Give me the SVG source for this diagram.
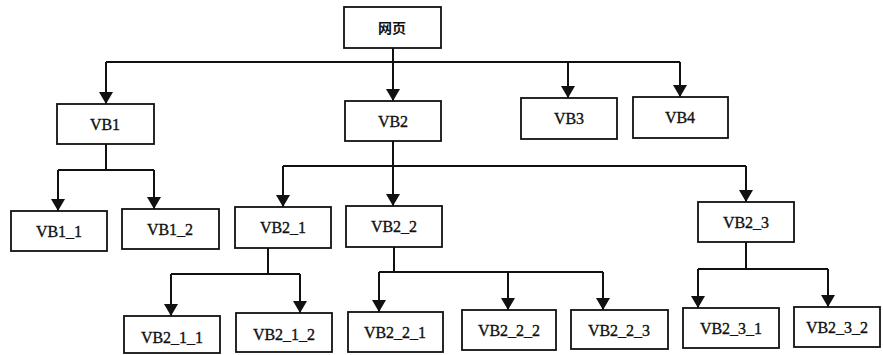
<svg xmlns="http://www.w3.org/2000/svg" width="883" height="355" viewBox="0 0 883 355">
<style>
.box{fill:#fff;stroke:#111;stroke-width:1.8}
.lbl{font-family:"Liberation Serif","Times New Roman",serif;font-size:16px;fill:#111;stroke:#111;stroke-width:0.35;text-anchor:middle}
.cjk{font-family:"Noto Sans CJK SC","Liberation Serif",sans-serif;font-size:14px;fill:#111;text-anchor:middle;font-weight:bold}
.ln{fill:none;stroke:#111;stroke-width:2}
.ar{fill:none;stroke:#111;stroke-width:2;marker-end:url(#ah)}
</style>
<defs>
<marker id="ah" markerUnits="userSpaceOnUse" viewBox="0 0 12 14" refX="12" refY="7" markerWidth="12" markerHeight="14" orient="auto">
<path d="M0,0 L12,7 L0,14 z" fill="#111"/>
</marker>
</defs>
<rect width="883" height="355" fill="#fff"/>
<g id="connectors">
<path class="ln" d="M393,48 V62 M106,62 H680"/>
<path class="ar" d="M106,62 V104"/>
<path class="ar" d="M393,62 V101"/>
<path class="ar" d="M568,62 V98"/>
<path class="ar" d="M680,62 V97"/>
<path class="ln" d="M106,144 V170 M58,170 H154"/>
<path class="ar" d="M58,170 V211"/>
<path class="ar" d="M154,170 V209"/>
<path class="ln" d="M393,141 V166 M283,166 H746"/>
<path class="ar" d="M283,166 V207"/>
<path class="ar" d="M393,166 V206"/>
<path class="ar" d="M746,166 V202"/>
<path class="ln" d="M268,248 V274 M171,274 H300"/>
<path class="ar" d="M171,274 V316"/>
<path class="ar" d="M300,274 V313"/>
<path class="ln" d="M394,247 V272 M379,272 H603"/>
<path class="ar" d="M379,272 V312"/>
<path class="ar" d="M508,272 V310"/>
<path class="ar" d="M603,272 V310"/>
<path class="ln" d="M746,242 V269 M698,269 H828"/>
<path class="ar" d="M698,269 V308"/>
<path class="ar" d="M828,269 V307"/>
</g>
<g id="root"><rect class="box" x="344" y="7" width="97" height="41"/><text class="cjk" x="392" y="33">网页</text></g>
<g id="VB1"><rect class="box" x="57" y="104" width="97" height="40"/><text class="lbl" x="105" y="130">VB1</text></g>
<g id="VB2"><rect class="box" x="345" y="101" width="96" height="40"/><text class="lbl" x="393" y="127">VB2</text></g>
<g id="VB3"><rect class="box" x="521" y="98" width="96" height="41"/><text class="lbl" x="569" y="124">VB3</text></g>
<g id="VB4"><rect class="box" x="633" y="97" width="95" height="41"/><text class="lbl" x="680" y="123">VB4</text></g>
<g id="VB1_1"><rect class="box" x="11" y="211" width="96" height="40"/><text class="lbl" x="59" y="237">VB1_1</text></g>
<g id="VB1_2"><rect class="box" x="122" y="209" width="97" height="40"/><text class="lbl" x="170" y="235">VB1_2</text></g>
<g id="VB2_1"><rect class="box" x="235" y="207" width="96" height="41"/><text class="lbl" x="283" y="233">VB2_1</text></g>
<g id="VB2_2"><rect class="box" x="346" y="206" width="96" height="41"/><text class="lbl" x="394" y="232">VB2_2</text></g>
<g id="VB2_3"><rect class="box" x="698" y="202" width="96" height="40"/><text class="lbl" x="746" y="228">VB2_3</text></g>
<g id="VB2_1_1"><rect class="box" x="124" y="316" width="96" height="37"/><text class="lbl" x="172" y="343">VB2_1_1</text></g>
<g id="VB2_1_2"><rect class="box" x="236" y="313" width="96" height="39"/><text class="lbl" x="284" y="340">VB2_1_2</text></g>
<g id="VB2_2_1"><rect class="box" x="348" y="312" width="95" height="40"/><text class="lbl" x="395" y="338">VB2_2_1</text></g>
<g id="VB2_2_2"><rect class="box" x="462" y="310" width="94" height="40"/><text class="lbl" x="509" y="336">VB2_2_2</text></g>
<g id="VB2_2_3"><rect class="box" x="571" y="310" width="97" height="39"/><text class="lbl" x="619" y="336">VB2_2_3</text></g>
<g id="VB2_3_1"><rect class="box" x="683" y="308" width="96" height="40"/><text class="lbl" x="731" y="334">VB2_3_1</text></g>
<g id="VB2_3_2"><rect class="box" x="794" y="307" width="86" height="40"/><text class="lbl" x="837" y="333">VB2_3_2</text></g>
</svg>
